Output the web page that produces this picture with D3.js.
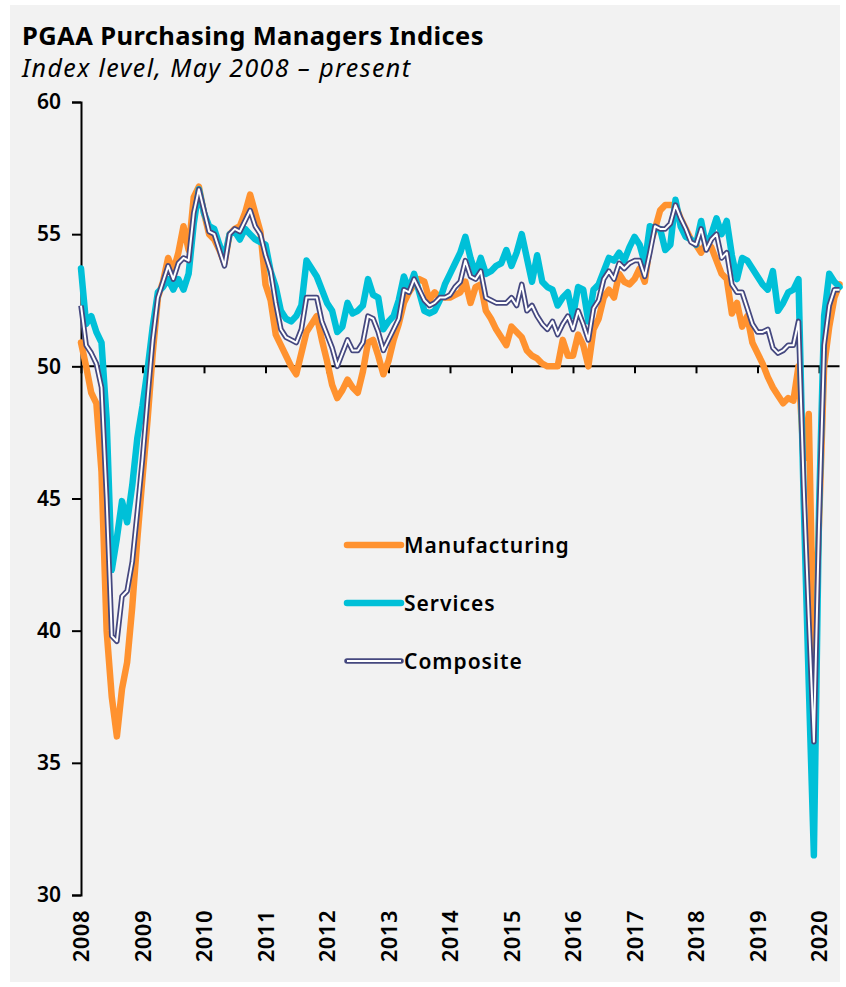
<!DOCTYPE html>
<html>
<head>
<meta charset="utf-8">
<script src="https://cdn.jsdelivr.net/npm/d3@7"></script>
<style>
  body { margin: 0; background: #ffffff; }
  svg { display: block; }
  text { font-family: "Noto Sans", "Open Sans", sans-serif; fill: #000; }
</style>
</head>
<body>
<div id="chart"></div>
<script>
// monthly readings, May 2008 .. Sep 2020
const manufacturing = [
  50.9, 50.0, 49.0, 48.6, 46.0, 40.0, 37.5, 36.0, 37.8, 38.8, 40.9, 43.5,
  45.8, 48.0, 50.5, 52.6, 53.2, 54.1, 53.6, 54.3, 55.3, 54.4, 56.4, 56.8,
  55.8, 55.0, 54.8, 54.4, 53.9, 55.0, 55.2, 55.3, 55.8, 56.5, 55.8, 55.1,
  53.1, 52.5, 51.2, 50.8, 50.4, 50.0, 49.7, 50.5, 51.3, 51.6, 51.9, 51.0,
  50.2, 49.3, 48.8, 49.1, 49.5, 49.2, 49.0, 49.8, 50.9, 51.0, 50.4, 49.7,
  50.2, 51.0, 51.6, 52.4, 52.8, 53.1, 53.3, 53.2, 52.5, 52.8, 52.6, 52.6,
  52.6, 52.7, 52.8, 53.2, 52.4, 53.0, 53.1, 52.1, 51.8, 51.4, 51.1, 50.8,
  51.5, 51.3, 51.1, 50.6, 50.4, 50.3, 50.1, 50.0, 50.0, 50.0, 51.0, 50.4,
  50.4, 51.2, 50.8, 50.0, 51.4, 51.8, 52.6, 52.9, 52.6, 53.5, 53.2, 53.1,
  53.3, 53.7, 53.2, 54.6, 55.2, 55.9, 56.1, 56.1, 56.1, 55.6, 55.2, 54.8,
  54.6, 54.3, 54.7, 54.5, 54.0, 53.5, 53.3, 52.0, 52.4, 51.5, 51.9, 50.9,
  50.5, 50.1, 49.6, 49.2, 48.9, 48.6, 48.8, 48.7, 50.0, 46.5, 48.2, 38.5,
  44.0, 50.0, 51.5, 52.6, 53.1
];
const services = [
  53.7, 51.6, 51.9, 51.3, 50.9, 48.0, 42.3, 43.5, 44.9, 44.1, 45.5, 47.3,
  48.5, 49.9, 51.5, 52.8, 53.0, 53.3, 52.9, 53.3, 52.9, 53.5, 55.4, 56.7,
  55.8, 55.3, 55.2, 54.6, 54.1, 55.0, 55.1, 54.8, 55.2, 55.0, 54.8, 54.7,
  54.6, 53.6, 53.0, 52.1, 51.8, 51.7, 51.9, 52.3, 54.0, 53.7, 53.4, 52.9,
  52.4, 52.1, 51.3, 51.5, 52.4, 52.0, 52.1, 52.3, 53.3, 52.7, 52.6, 51.4,
  51.7, 51.9, 52.5, 53.4, 52.9, 53.5, 52.8, 52.1, 52.0, 52.1, 52.5, 53.1,
  53.5, 53.9, 54.3, 54.9, 54.1, 53.5, 54.1, 53.5, 53.6, 53.8, 53.9, 54.4,
  53.8, 54.3, 55.0, 54.1, 53.2, 54.2, 53.2, 53.0, 52.9, 52.3, 52.6, 52.8,
  51.9, 53.0, 52.9, 51.7, 52.9, 53.1, 53.6, 54.1, 54.0, 54.3, 54.0, 54.5,
  54.9, 54.6, 53.9, 55.3, 55.2, 55.2, 54.4, 54.6, 56.3, 55.3, 54.9, 54.8,
  54.6, 55.5, 54.5, 55.0, 55.6, 55.0, 55.5, 54.2, 53.3, 54.1, 54.0, 53.7,
  53.4, 53.1, 52.9, 53.6, 52.1, 52.4, 52.8, 52.9, 53.3, 45.0, 38.0, 31.5,
  44.5, 51.9, 53.5, 53.2, 53.0
];
const composite = [
  52.3, 50.8, 50.5, 50.1, 49.2, 45.0, 39.8, 39.6, 41.3, 41.5, 42.6, 44.5,
  46.5, 48.8, 51.0, 52.6, 53.2, 53.8, 53.3, 53.9, 54.1, 54.0, 55.8, 56.7,
  55.9, 55.1, 55.0, 54.4, 53.8, 55.0, 55.2, 55.1, 55.5, 55.9, 55.3, 55.0,
  54.2, 53.6, 52.4, 51.4, 51.1, 51.0, 50.9, 51.4, 52.6, 52.6, 52.6, 51.7,
  51.2, 50.7, 50.0, 50.5, 51.0, 50.6, 50.6, 50.9, 51.9, 51.8, 51.3, 50.6,
  51.0, 51.4, 51.8, 52.9, 52.8, 53.3, 52.9, 52.5, 52.3, 52.4, 52.6, 52.6,
  52.7, 53.0, 53.2, 54.0, 53.4, 53.3, 53.6, 52.6, 52.5, 52.4, 52.4, 52.4,
  52.6, 52.3, 53.1, 52.1, 52.3, 51.9, 51.6, 51.4, 51.7, 51.2, 51.6, 51.9,
  51.4, 52.1, 51.6, 51.0, 52.2, 52.5, 53.3, 53.6, 53.3, 53.9, 53.7, 53.9,
  54.0, 54.0, 53.4, 54.3, 55.3, 55.2, 55.2, 55.4, 56.1, 55.6, 55.2, 54.7,
  54.6, 55.2, 54.4, 54.8, 55.0, 54.1, 54.3, 53.1, 52.8, 52.8, 52.2, 51.6,
  51.3, 51.3, 51.4, 50.7, 50.5, 50.6, 50.8, 50.8, 51.7, 45.5, 40.5, 35.8,
  44.0, 50.8, 52.3, 52.9, 52.9
];
const yearLabels = ["2008", "2009", "2010", "2011", "2012", "2013", "2014",
                    "2015", "2016", "2017", "2018", "2019", "2020"];
const yTicks = [30, 35, 40, 45, 50, 55, 60];

const W = 846, H = 987;
const colors = { Manufacturing: "#ff922f", Services: "#00c0d8", Composite: "#45487f" };

const svg = d3.select("#chart").append("svg")
    .attr("width", W)
    .attr("height", H);

svg.append("rect")
    .attr("x", 10).attr("y", 5)
    .attr("width", 830).attr("height", 977)
    .attr("fill", "#f2f2f2");

// title
svg.append("text")
    .attr("x", 22).attr("y", 45)
    .style("font-size", "25.5px")
    .style("font-weight", "700")
    .style("letter-spacing", "0.4px")
    .text("PGAA Purchasing Managers Indices");
svg.append("text")
    .attr("x", 22).attr("y", 77)
    .style("font-size", "25px")
    .style("font-style", "italic")
    .style("letter-spacing", "1.4px")
    .text("Index level, May 2008 \u2013 present");

// scales
const x = d3.scaleLinear()
    .domain([0, manufacturing.length - 1])
    .range([81, 839.5]);

const y = d3.scaleLinear()
    .domain([30, 60])
    .range([895, 102]);

// y axis
const yAxis = svg.append("g")
    .attr("transform", "translate(81,0)")
    .call(d3.axisLeft(y).tickValues(yTicks).tickSize(9).tickPadding(11));
yAxis.select(".domain").attr("stroke", "#000").attr("stroke-width", 2);
yAxis.selectAll(".tick line").attr("stroke", "#000").attr("stroke-width", 2);
yAxis.selectAll(".tick text")
    .style("font-size", "21px")
    .style("font-family", "'Noto Sans', 'Open Sans', sans-serif")
    .style("font-weight", "600")
    .attr("fill", "#000");

// x axis line at 50
const tickIdx = yearLabels.map((d, i) => i * 12);
const xAxis = svg.append("g")
    .attr("transform", "translate(0," + y(50) + ")")
    .call(d3.axisBottom(x).tickValues(tickIdx).tickSize(7).tickFormat(""));
xAxis.select(".domain").attr("stroke", "#000").attr("stroke-width", 2)
    .attr("d", "M" + x(0) + ",0H" + x(manufacturing.length - 1));
xAxis.selectAll(".tick line").attr("stroke", "#000").attr("stroke-width", 2);

// year labels at the bottom
svg.append("g").selectAll("text")
    .data(tickIdx)
    .enter().append("text")
    .attr("transform", d => "translate(" + (x(d) + 8) + ",910) rotate(-90)")
    .attr("text-anchor", "end")
    .style("font-size", "22px")
    .style("font-weight", "600")
    .style("letter-spacing", "0.5px")
    .text((d, i) => yearLabels[i]);

const line = d3.line()
    .x((d, i) => x(i))
    .y(d => y(d));

svg.append("path")
    .datum(manufacturing)
    .attr("d", line)
    .attr("fill", "none")
    .attr("stroke", colors.Manufacturing)
    .attr("stroke-width", 6.5)
    .attr("stroke-linejoin", "round")
    .attr("stroke-linecap", "round");

svg.append("path")
    .datum(services)
    .attr("d", line)
    .attr("fill", "none")
    .attr("stroke", colors.Services)
    .attr("stroke-width", 6.5)
    .attr("stroke-linejoin", "round")
    .attr("stroke-linecap", "round");

svg.append("path")
    .datum(composite)
    .attr("d", line)
    .attr("fill", "none")
    .attr("stroke", colors.Composite)
    .attr("stroke-width", 5.5)
    .attr("stroke-linejoin", "round");
svg.append("path")
    .datum(composite)
    .attr("d", line)
    .attr("fill", "none")
    .attr("stroke", "#ffffff")
    .attr("stroke-width", 2)
    .attr("stroke-linejoin", "round");

// legend
const legend = svg.append("g");
const legendItems = ["Manufacturing", "Services", "Composite"];
legendItems.forEach((name, i) => {
    const ly = 545 + i * 58;
    if (name === "Composite") {
        legend.append("line")
            .attr("x1", 347).attr("x2", 401).attr("y1", ly).attr("y2", ly)
            .attr("stroke", colors.Composite).attr("stroke-width", 5.5)
            .attr("stroke-linecap", "round");
        legend.append("line")
            .attr("x1", 347).attr("x2", 401).attr("y1", ly).attr("y2", ly)
            .attr("stroke", "#fff").attr("stroke-width", 2);
    } else {
        legend.append("line")
            .attr("x1", 347).attr("x2", 401).attr("y1", ly).attr("y2", ly)
            .attr("stroke", colors[name]).attr("stroke-width", 6.5)
            .attr("stroke-linecap", "round");
    }
    legend.append("text")
        .attr("x", 404).attr("y", ly + 8)
        .style("font-size", "21px")
        .style("font-weight", "600")
        .style("letter-spacing", "1px")
        .text(name);
});
</script>
</body>
</html>
